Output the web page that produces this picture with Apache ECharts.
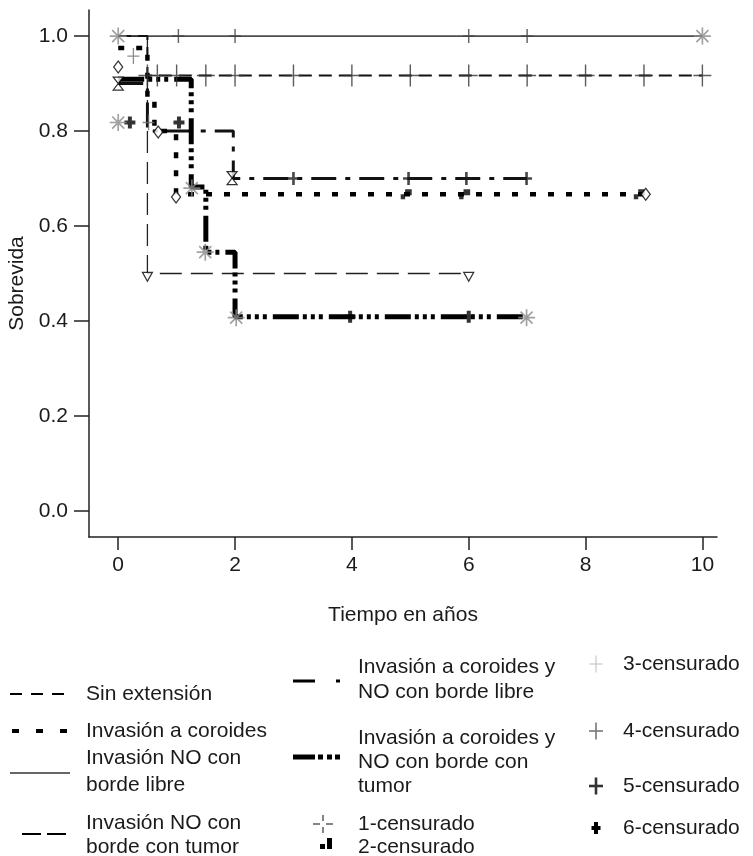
<!DOCTYPE html>
<html><head><meta charset="utf-8">
<script src="https://cdn.jsdelivr.net/npm/echarts@6/dist/echarts.min.js"></script>
<style>html,body{margin:0;padding:0;background:#fff}#c{width:753px;height:856px}</style>
</head><body><div id="c"></div>
<script>
// ---- data ----
const seriesNames = ['Sin extensión','Invasión a coroides','Invasión NO con borde libre','Invasión NO con borde con tumor','Invasión a coroides y NO con borde libre','Invasión a coroides y NO con borde con tumor'];
const censorNames = ['1-censurado','2-censurado','3-censurado','4-censurado','5-censurado','6-censurado'];
const xTicks = [0,2,4,6,8,10];
const yTicks = [0,0.2,0.4,0.6,0.8,1.0];
// Kaplan-Meier step points [tiempo, sobrevida]
const sinExtension   = [[0,1],[0.5,0.917],[10,0.917]];
const invCoroides    = [[0,0.975],[0.5,0.867],[0.62,0.80],[0.99,0.667],[9,0.667]];
const invNOLibre     = [[0,1],[10,1]];
const invNOTumor     = [[0,1],[0.5,0.5],[6,0.5]];
const invCorNOLibre  = [[0,0.90],[0.5,0.80],[1.97,0.70],[7,0.70]];
const invCorNOTumor  = [[0,0.909],[1.25,0.682],[1.5,0.545],[2,0.409],[7,0.409]];
// censored observations
const cens1 = [[0.5,0.917],[0.67,0.917],[1,0.917],[1.5,0.917],[2,0.917],[3,0.917],[4,0.917],[5,0.917],[6,0.917],[7,0.917],[8,0.917],[9,0.917],[10,0.917]];
const cens2 = [[4.93,0.667],[5.93,0.667],[8.92,0.667]];
const cens3 = [[1.03,1],[2,1],[6,1],[7,1]];
const cens4 = [[0.26,0.958],[0.52,0.818]];
const cens5 = [[3,0.70],[4.97,0.70],[5.96,0.70],[6.99,0.70]];
const cens6 = [[0.2,0.818],[1.04,0.818],[3.97,0.409],[6,0.409]];
// point markers
const stars      = [[0,1],[10,1],[0,0.818],[1.26,0.68],[1.49,0.545],[2.02,0.407],[6.99,0.407]];
const diamonds   = [[0,0.935],[0.685,0.798],[0.99,0.661],[9.03,0.667]];
const hourglasses= [[0,0.90],[1.95,0.701]];
const triangles  = [[0.5,0.493],[6,0.493]];

const FONT = '"Liberation Sans", Arial, sans-serif';
const TXT = '#1a1a1a';

function plusPath(w,h,t){
  const a=w/2,b=h/2,c=t/2;
  return 'path://M'+(-c)+','+(-b)+'L'+c+','+(-b)+'L'+c+','+(-c)+'L'+a+','+(-c)+'L'+a+','+c+'L'+c+','+c+'L'+c+','+b+'L'+(-c)+','+b+'L'+(-c)+','+c+'L'+(-a)+','+c+'L'+(-a)+','+(-c)+'L'+(-c)+','+(-c)+'Z';
}
function starPath(){
  const hl=9, ht=0.9; let p='path://';
  [0,45,90,135].forEach(function(deg){
    const r=deg*Math.PI/180, dx=Math.cos(r), dy=Math.sin(r), nx=-dy, ny=dx;
    const pts=[[-hl*dx-ht*nx,-hl*dy-ht*ny],[hl*dx-ht*nx,hl*dy-ht*ny],[hl*dx+ht*nx,hl*dy+ht*ny],[-hl*dx+ht*nx,-hl*dy+ht*ny]];
    p+='M'+pts.map(q=>q[0].toFixed(3)+','+q[1].toFixed(3)).join('L')+'Z';
  });
  return p;
}
const hourglassPath='path://M0,0L10,0L0,13L10,13Z';
const cens2Path='path://M0,5L4,5L4,10L0,10ZM4,0L10,0L10,6L4,6Z';

function km(name,data,ls,z){
  return {name:name,type:'line',data:data,step:'end',symbol:'none',showSymbol:false,lineStyle:ls,z:z,silent:true,animation:false};
}
function sc(data,symbol,size,style,z,rot){
  return {type:'scatter',data:data,symbol:symbol,symbolSize:size,symbolRotate:rot||0,itemStyle:style,z:z,silent:true,animation:false};
}

const series = [
  km(seriesNames[2],invNOLibre,{color:'#4d4d4d',width:1.6,type:'solid'},2),
  km(seriesNames[3],invNOTumor,{color:'#222',width:1.3,type:[22,9]},3),
  km(seriesNames[0],sinExtension,{color:'#111',width:2,type:[13,7]},4),
  km(seriesNames[4],invCorNOLibre,{color:'#111',width:3,type:[25,9,5,9]},5),
  km(seriesNames[1],invCoroides,{color:'#000',width:4.5,type:[6,12]},6),
  km(seriesNames[5],invCorNOTumor,{color:'#000',width:5,type:[26,4,4,4,4,4,4,6]},7),
  sc(cens1,plusPath(18,22,1.4),[18,22],{color:'#333'},10),
  sc(cens2,cens2Path,[11,10],{color:'#000'},10),
  sc(cens3,plusPath(12,14,1.5),[12,14],{color:'#444'},10),
  sc(cens4,plusPath(12,16,1.3),[12,16],{color:'#707070'},10),
  sc(cens5,plusPath(11,13,2.6),[11,13],{color:'#1a1a1a'},10),
  sc(cens6,plusPath(11,12,4),[11,12],{color:'#000'},10),
  sc(stars,starPath(),17,{color:'#8a8a8a'},12),
  sc(diamonds,'diamond',[9,12],{color:'#fff',borderColor:'#000',borderWidth:1.3},11),
  sc(hourglasses,hourglassPath,[10,13],{color:'#fff',borderColor:'#000',borderWidth:1.2},11),
  sc(triangles,'triangle',[10,9],{color:'#fff',borderColor:'#000',borderWidth:1.2},11,180)
];

// ---- legend drawn with graphic elements ----
function ln(x1,y1,x2,y2,w,dash,color){return {type:'line',shape:{x1:x1,y1:y1,x2:x2,y2:y2},style:{stroke:color||'#000',lineWidth:w,lineDash:dash||null}};}
function tx(x,y,text,lh){return {type:'text',x:x,y:y,style:{text:text,font:'21px '+FONT,fill:TXT,verticalAlign:'top',align:'left',lineHeight:lh||24}};}
function rc(x,y,w,h,color){return {type:'rect',shape:{x:x,y:y,width:w,height:h},style:{fill:color||'#000'}};}
function plus(cx,cy,w,h,t,color){return [ln(cx-w/2,cy,cx+w/2,cy,t,null,color),ln(cx,cy-h/2,cx,cy+h/2,t,null,color)];}

const graphics = [
  ln(10,694,66,694,2,[12,9]), tx(86,682,seriesNames[0]),
  ln(12,731,67,731,4,[7,17]), tx(86,719,seriesNames[1]),
  ln(10,773,70,773,1.3,null,'#333'), tx(86,745,'Invasión NO con\nborde libre',27),
  ln(22,834,68,834,2,[19,6]), tx(86,811,'Invasión NO con\nborde con tumor',24),
  ln(293,681,341,681,3,[22,21,4,100]), tx(358,654.5,'Invasión a coroides y\nNO con borde libre',25),
  ln(293,757,341,757,5,[22,3,5,4,5,3,5,100]), tx(358,726,'Invasión a coroides y\nNO con borde con\ntumor',24),
  ln(313,824,320,824,1.2,null,'#333'), ln(326,824,333,824,1.2,null,'#333'), ln(323,815,323,821,1.2,null,'#333'), ln(323,827,323,833,1.2,null,'#333'),
  tx(358,812,censorNames[0]),
  rc(320,844,5,5), rc(327,838,5,11), tx(358,835,censorNames[1]),
  tx(623,652,censorNames[2]), tx(623,719,censorNames[3]), tx(623,774,censorNames[4]), tx(623,816,censorNames[5])
].concat(plus(596,664,13,17,1,'#bdbdbd'))
 .concat(plus(596,731,14,17,1.6,'#777'))
 .concat(plus(596,786,14,17,2.6,'#333'))
 .concat(plus(596,828,9,12,4,'#000'));

const chart = echarts.init(document.getElementById('c'),null,{renderer:'canvas'});
chart.setOption({
  animation:false,
  backgroundColor:'#fff',
  grid:{left:89,right:36,top:10,bottom:319,containLabel:false,outerBoundsMode:'none'},
  xAxis:{type:'value',min:-0.5,max:10.25,
    axisLine:{show:true,onZero:false,lineStyle:{color:'#222',width:1.5}},
    axisTick:{show:true,customValues:xTicks,length:13,lineStyle:{color:'#222',width:1.5}},
    axisLabel:{customValues:xTicks,margin:18,fontSize:21,fontFamily:FONT,color:TXT},
    splitLine:{show:false},
    name:'Tiempo en años',nameLocation:'middle',nameGap:68,
    nameTextStyle:{fontSize:21,fontFamily:FONT,color:TXT}},
  yAxis:{type:'value',min:-0.055,max:1.055,
    axisLine:{show:true,onZero:false,lineStyle:{color:'#222',width:1.5}},
    axisTick:{show:true,customValues:yTicks,length:15,lineStyle:{color:'#222',width:1.5}},
    axisLabel:{customValues:yTicks,margin:21,fontSize:21,fontFamily:FONT,color:TXT,formatter:function(v){return v.toFixed(1);}},
    splitLine:{show:false},
    name:'Sobrevida',nameLocation:'middle',nameGap:60,nameRotate:90,
    nameTextStyle:{fontSize:21,fontFamily:FONT,color:TXT,padding:[0,20,0,0]}},
  series:series,
  graphic:graphics
});
</script></body></html>
